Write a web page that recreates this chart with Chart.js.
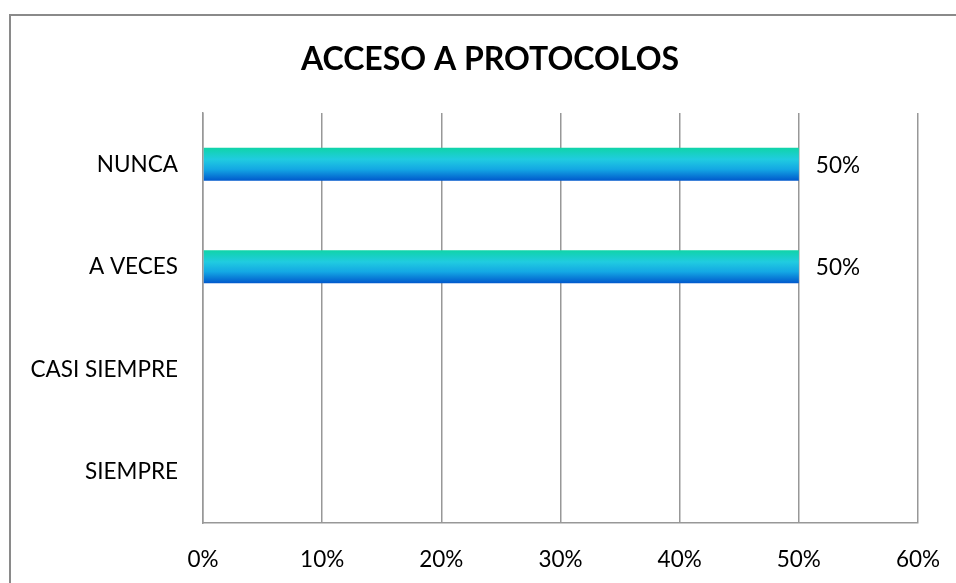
<!DOCTYPE html>
<html>
<head>
<meta charset="utf-8">
<script src="https://cdn.jsdelivr.net/npm/chart.js@4.4.1/dist/chart.umd.min.js"></script>
<style>
  html, body { margin: 0; padding: 0; background: #ffffff; }
  #wrap { width: 956px; height: 583px; position: relative; }
</style>
</head>
<body>
<div id="wrap"><canvas id="c" width="956" height="583"></canvas></div>
<script>
const chartTitle = "ACCESO A PROTOCOLOS";
const categories = ["NUNCA", "A VECES", "CASI SIEMPRE", "SIEMPRE"];
const values = [0.5, 0.5, 0, 0];
const tickValues = [0, 0.1, 0.2, 0.3, 0.4, 0.5, 0.6];

const FONT = "Lato, 'Liberation Sans', sans-serif";
const GRID = "#989898";

function pct(v) { return Math.round(v * 100) + "%"; }

const framePlugin = {
  id: "frame",
  beforeDraw(chart) {
    const ctx = chart.ctx;
    ctx.save();
    ctx.fillStyle = "#ffffff";
    ctx.fillRect(0, 0, chart.width, chart.height);
    ctx.strokeStyle = "#8a8a8a";
    ctx.lineWidth = 2;
    ctx.strokeRect(10, 15, chart.width + 40, chart.height + 40);
    ctx.fillStyle = "#000000";
    ctx.font = "bold 32px " + FONT;
    ctx.textAlign = "center";
    ctx.textBaseline = "middle";
    ctx.fillText(chartTitle, 490, 60);
    ctx.restore();
  }
};

const labelPlugin = {
  id: "barLabels",
  afterDatasetsDraw(chart) {
    const ctx = chart.ctx;
    const meta = chart.getDatasetMeta(0);
    ctx.save();
    ctx.fillStyle = "#000000";
    ctx.font = "22.5px " + FONT;
    ctx.textAlign = "left";
    ctx.textBaseline = "middle";
    meta.data.forEach((bar, i) => {
      const v = chart.data.datasets[0].data[i];
      if (v > 0) ctx.fillText(pct(v), bar.x + 17, bar.y + 1);
    });
    ctx.restore();
  }
};

function barGradient(context) {
  const chart = context.chart;
  const ys = chart.scales ? chart.scales.y : null;
  if (!ys || context.dataIndex === undefined) return "#1E9BE0";
  const cy = ys.getPixelForValue(context.dataIndex);
  if (!isFinite(cy)) return "#1E9BE0";
  const half = 16.5;
  const g = chart.ctx.createLinearGradient(0, cy - half, 0, cy + half);
  g.addColorStop(0, "#10D4A8");
  g.addColorStop(0.35, "#20CCE0");
  g.addColorStop(0.65, "#14A8E4");
  g.addColorStop(1, "#0058CC");
  return g;
}

new Chart(document.getElementById("c"), {
  type: "bar",
  data: {
    labels: categories,
    datasets: [{
      data: values,
      backgroundColor: barGradient,
      borderWidth: 0,
      barPercentage: 1,
      categoryPercentage: 0.32
    }]
  },
  options: {
    indexAxis: "y",
    responsive: false,
    animation: false,
    devicePixelRatio: 1,
    layout: { padding: { left: 0, top: 113, right: 38, bottom: 0 } },
    plugins: {
      legend: { display: false },
      title: { display: false },
      tooltip: { enabled: false }
    },
    scales: {
      x: {
        min: 0,
        max: 0.6,
        afterBuildTicks(scale) { scale.ticks = tickValues.map(v => ({ value: v })); },
        afterFit(scale) { scale.height = 60; scale.paddingLeft = 0; scale.paddingRight = 0; },
        grid: { display: true, color: GRID, lineWidth: 1.5, drawTicks: false },
        border: { display: true, color: GRID, width: 1.5 },
        ticks: {
          padding: 23,
          color: "#000000",
          font: { family: FONT, size: 22.5 },
          callback: (v) => pct(v)
        }
      },
      y: {
        afterFit(scale) { scale.width = 203; },
        grid: { display: false, drawTicks: false },
        border: { display: true, color: GRID, width: 1.5 },
        ticks: {
          padding: 25,
          color: "#000000",
          font: { family: FONT, size: 22.5 }
        }
      }
    }
  },
  plugins: [framePlugin, labelPlugin]
});
</script>
</body>
</html>
